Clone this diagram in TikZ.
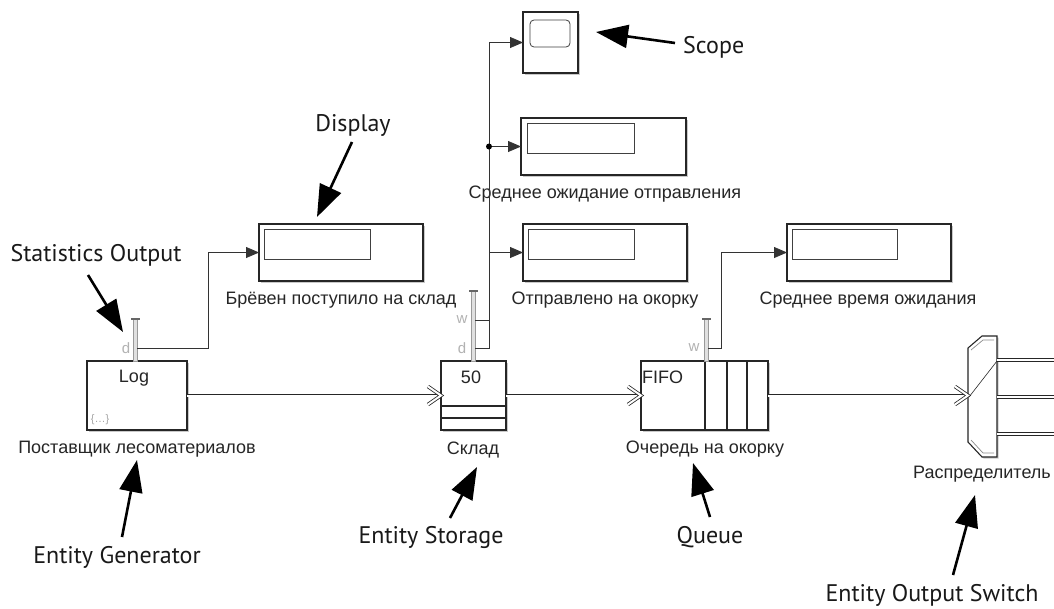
\documentclass[tikz,border=0pt]{standalone}
\usepackage{fontspec}
\setmainfont{Liberation Sans}
\newfontfamily\notefont{PT Sans}
\usetikzlibrary{arrows.meta,calc,shadows}

\tikzset{
  block/.style={draw=black!85, line width=1.1pt, fill=white, inner sep=0pt, outer sep=0pt,
    anchor=north west, drop shadow={shadow xshift=1.5pt, shadow yshift=-1.5pt, fill=black!35, opacity=0.6}},
  screen/.style={draw=black!75, line width=0.8pt},
  blabel/.style={font=\fontsize{18}{20}\selectfont, text=black!85, inner sep=0pt},
  plabel/.style={font=\fontsize{15}{17}\selectfont, text=black!30, inner sep=0pt},
  sig/.style={draw=black!80, line width=0.8pt},
  sigarrow/.style={sig, -{Triangle[length=13pt,width=11pt]}},
  entity/.style={draw=black!85, line width=0.8pt, double=white, double distance=2pt},
  note/.style={font=\notefont\fontsize{24}{26}\selectfont, text=black!90, inner sep=0pt},
  notearrow/.style={line width=2.6pt, -{Triangle[length=32pt,width=23pt]}},
  portbar/.style={draw=black!40, fill=black!12, line width=0.5pt},
  porttick/.style={draw=black!60, line width=1.4pt},
}
\newcommand\entchevron[1]{\draw[entity, line join=miter] ($(#1)+(-13,-9)$) -- (#1) -- ($(#1)+(-13,9)$);}

\begin{document}
\begin{tikzpicture}[x=1pt,y=-1pt]
\useasboundingbox[fill=white] (0,0) rectangle (1054,608);

% ---- blocks ----
\node[block, minimum width=100pt, minimum height=69pt] (gen) at (87,361) {};
\node[blabel] at (134,378) {Log};
\node[font=\fontsize{11}{12}\selectfont, text=black!35, inner sep=0pt] at (100,420) {\{…\}};
\node[blabel] (genlbl) at (137,449) {Поставщик лесоматериалов};

\node[block, minimum width=65pt, minimum height=69pt] (store) at (441,361) {};
\node[blabel] at (471,377) {50};
\draw[black!85, line width=1.2pt] (441,406) -- (506,406) (441,418) -- (506,418);
\node[blabel] (storelbl) at (473,450) {Склад};

\node[block, minimum width=127pt, minimum height=69pt] (queue) at (641,361) {};
\node[blabel, anchor=west] at (642,377) {FIFO};
\draw[black!85, line width=1.1pt] (705,361) -- (705,430) (727,361) -- (727,430) (747,361) -- (747,430);
\node[blabel] (queuelbl) at (705,449) {Очередь на окорку};

\node[block, minimum width=55pt, minimum height=61pt] (scope) at (523,12) {};
\draw[screen, rounded corners=4pt] (530,20) rectangle (570,47);

\node[block, minimum width=164pt, minimum height=57pt] (disp1) at (259,224) {};
\draw[screen] (264,229) rectangle (370,259);
\node[blabel] at (341,300) {Брёвен поступило на склад};

\node[block, minimum width=165pt, minimum height=57pt] (disp2) at (521,118) {};
\draw[screen] (527,123) rectangle (634,153);
\node[blabel] at (605,194) {Среднее ожидание отправления};

\node[block, minimum width=164pt, minimum height=57pt] (disp3) at (523,224) {};
\draw[screen] (528,229) rectangle (634,259);
\node[blabel] at (605,300) {Отправлено на окорку};

\node[block, minimum width=164pt, minimum height=57pt] (disp4) at (787,224) {};
\draw[screen] (792,229) rectangle (897,259);
\node[blabel] at (868,300) {Среднее время ожидания};

% ---- entity output switch ----
\node[inner sep=0pt, outer sep=0pt, minimum width=29pt, minimum height=121pt, anchor=north west] (switch) at (968,336) {};
\fill[black!35, opacity=0.6] (969.5,349.5) -- (983.5,337.5) -- (998.5,337.5) -- (998.5,458.5) -- (983.5,458.5) -- (969.5,443.5) -- cycle;
\draw[draw=black!85, line width=1.1pt, fill=white, line join=miter]
  (968,348) -- (982,336) -- (997,336) -- (997,457) -- (982,457) -- (968,442) -- cycle;
\draw[black!45, line width=0.7pt] (971,350) -- (983,340) -- (994,340);
\draw[black!45, line width=0.7pt] (971,440) -- (983,453) -- (994,453);
\draw[black!85, line width=0.6pt] (969,397) -- (997,361);
\node[blabel] (switchlbl) at (982,474) {Распределитель};
\coordinate (swin) at (968,397);
\coordinate (out1) at (1054,360);
\coordinate (out2) at (1054,397);
\coordinate (out3) at (1054,434);
\draw[entity] (997,360) -- (out1);
\draw[entity] (997,397) -- (out2);
\draw[entity] (997,434) -- (out3);

% ---- statistic ports ----
\draw[portbar] (133,319) rectangle (137,361);
\draw[porttick] (131,319) -- (140,319);
\node[plabel] at (126,348) {d};
\coordinate (gend) at (137,348);

\draw[portbar] (471,291) rectangle (475,361);
\draw[porttick] (469,291) -- (478,291);
\node[plabel] at (462,320) {w};
\node[plabel] at (462,348) {d};
\coordinate (storew) at (475,320);
\coordinate (stored) at (475,348);

\draw[portbar] (704,319) rectangle (708,361);
\draw[porttick] (702,319) -- (711,319);
\node[plabel] at (694,348) {w};
\coordinate (queuew) at (708,348);

% ---- signal lines ----
\draw[sigarrow] (gend) -- (208,348) |- (disp1.west);
\draw[sigarrow] (stored) -- (489,348) |- (scope.west);
\draw[sig] (storew) -- (489,320);
\coordinate (branch) at (489,146.5);
\draw[sigarrow] (branch) -- (disp2.west);
\fill[black] (branch) circle (3pt);
\coordinate (branch3) at (489,252.5);
\draw[sigarrow] (branch3) -- (disp3.west);
\draw[sigarrow] (queuew) -- (721,348) |- (disp4.west);

% ---- entity connections ----
\draw[entity] (gen.east) -- (store.west);
\entchevron{store.west}
\draw[entity] (store.east) -- (queue.west);
\entchevron{queue.west}
\draw[entity] (queue.east) -- (swin |- queue.east);
\entchevron{swin |- queue.east}

% ---- annotations ----
\node[note] (nstat) at (96,255) {Statistics Output};
\node[note] (ndisp) at (353,125) {Display};
\node[note, anchor=west] (nscope) at (683,47) {Scope};
\node[note] (ngen) at (117,557) {Entity Generator};
\node[note] (nstore) at (431,537) {Entity Storage};
\node[note] (nqueue) at (710,537) {Queue};
\node[note] (nswitch) at (932,595) {Entity Output Switch};

\draw[notearrow] (88,275) -- (123,332);
\draw[notearrow] (352,142) -- (317,217);
\draw[notearrow] (675,43) -- (596,32);
\draw[notearrow] (122,537) -- (137,460);
\draw[notearrow] (450,518) -- (477,467);
\draw[notearrow] (710,517) -- (693,463);
\draw[notearrow] (953,575) -- (975,495);
\end{tikzpicture}
\end{document}
